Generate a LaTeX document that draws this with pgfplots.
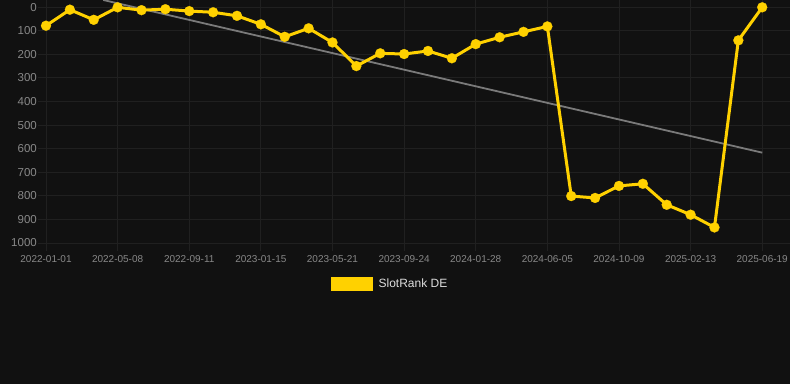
\documentclass[border=0pt]{standalone}
\usepackage{fontspec}
\setmainfont{Liberation Sans}
\usepackage{pgfplots}
\pgfplotsset{compat=1.18}
\definecolor{bg}{HTML}{111111}
\definecolor{gridc}{HTML}{202020}
\definecolor{tickc}{HTML}{888888}
\definecolor{gold}{HTML}{FFD100}
\definecolor{trendc}{HTML}{7A7A7A}
\definecolor{legtext}{HTML}{DDDDDD}
\begin{document}
\begin{tikzpicture}[x=1pt,y=1pt]
\fill[bg] (0,0) rectangle (790,384);
\begin{axis}[
  at={(46pt,141pt)}, anchor=south west,
  scale only axis, width=742pt, height=243pt,
  xmin=0, xmax=31.08, ymin=-30, ymax=1000,
  y dir=reverse, clip=false,
  axis line style={draw=none},
  grid=major, grid style={color=gridc, line width=0.8pt},
  tick align=outside, major tick length=8pt,
  tick style={color=gridc, line width=0.8pt},
  xtick={0,3,...,30},
  xticklabels={2022-01-01,2022-05-08,2022-09-11,2023-01-15,2023-05-21,2023-09-24,2024-01-28,2024-06-05,2024-10-09,2025-02-13,2025-06-19},
  ytick={0,100,...,1000},
  /pgf/number format/assume math mode=true,
  /pgf/number format/1000 sep={},
  yticklabel style={font=\fontsize{11.5}{13}\selectfont, text=tickc, anchor=east, inner sep=0pt, xshift=-1pt},
  xticklabel style={font=\fontsize{10}{12}\selectfont, text=tickc, anchor=north, inner sep=0pt, yshift=-4pt},
  legend style={at={(0.4636,-0.169)}, anchor=center, draw=none, fill=none, text=legtext, font=\fontsize{12}{14}\selectfont},
  legend image code/.code={\fill[gold] (0pt,-5.5pt) rectangle (39pt,5.5pt); \path (43pt,0pt);},
]
\addplot[trendc, line width=1.8pt, forget plot] coordinates {(2.4,-30) (30,617)};
\addplot[gold, line width=3pt, mark=*, mark size=5pt, mark options={solid, fill=gold, draw=gold, line width=0.2pt}] coordinates {
(0,79) (1,11) (2,54) (3,1) (4,13) (5,9) (6,17) (7,22) (8,37) (9,73)
(10,126) (11,90) (12,150) (13,250) (14,196) (15,199) (16,186) (17,217) (18,157) (19,128)
(20,105) (21,82) (22,801) (23,809) (24,758) (25,749) (26,838) (27,880) (28,934) (29,141) (30,1)
};
\addlegendentry{SlotRank DE}
\end{axis}
\pgfresetboundingbox
\path[use as bounding box] (0,0) rectangle (790,384);
\end{tikzpicture}
\end{document}
